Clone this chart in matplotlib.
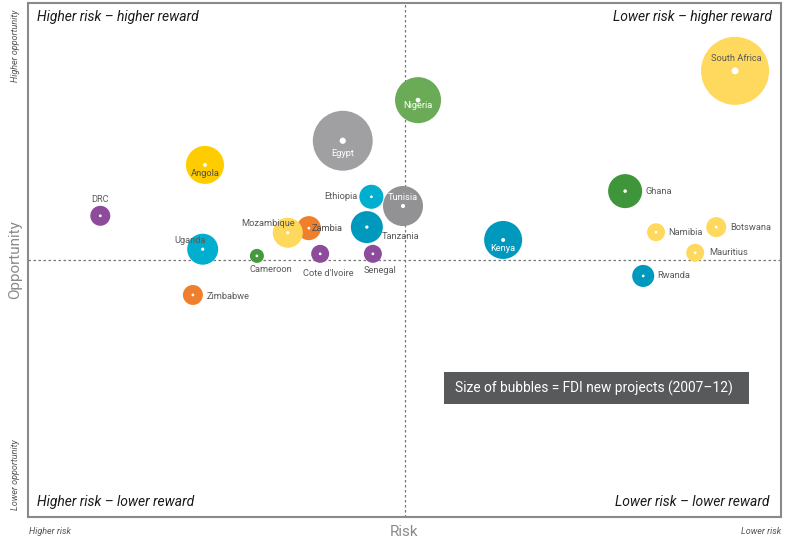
import matplotlib.pyplot as plt
from matplotlib.patches import Rectangle

# Data (risk score, opportunity score, FDI new projects)
countries = ["South Africa", "Nigeria", "Egypt", "Angola", "DRC", "Ethiopia",
             "Tunisia", "Tanzania", "Zambia", "Mozambique", "Uganda", "Cameroon",
             "Cote d'Ivoire", "Senegal", "Zimbabwe", "Kenya", "Ghana", "Namibia",
             "Botswana", "Mauritius", "Rwanda"]
risk = [93.9, 51.8, 41.8, 23.5, 9.6, 45.6, 49.8, 45.0, 37.3, 34.5, 23.2, 30.4,
        38.8, 45.8, 21.9, 63.1, 79.3, 83.4, 91.4, 88.6, 81.7]
opportunity = [86.8, 81.1, 73.2, 68.5, 58.6, 62.3, 60.5, 56.4, 56.2, 55.3, 52.1,
               50.8, 51.2, 51.2, 43.2, 53.9, 63.4, 55.4, 56.4, 51.4, 46.9]
fdi_projects = [800, 366, 620, 250, 69, 100, 277, 177, 100, 156, 166, 34,
                56, 56, 69, 250, 200, 56, 69, 56, 84]

YEL = "#FFD95E"
colors = [YEL, "#6BAA57", "#A0A0A2", "#FFCC00", "#8E4B9C", "#00AFCF",
          "#929294", "#0099BE", "#F07F2D", YEL, "#00AFCF", "#449A3C",
          "#8E4B9C", "#8E4B9C", "#F07F2D", "#0099BE", "#3F963A", YEL,
          YEL, YEL, "#0099BE"]

# label placement: (dx, dy) in points, ha, text colour
lab_dark = "#595959"
labels = {
    "South Africa": (1, 9, "center", lab_dark),
    "Nigeria": (0, -4, "center", "white"),
    "Egypt": (0, -9, "center", "white"),
    "Angola": (0, -6, "center", "#4d4d4d"),
    "DRC": (0, 12, "center", lab_dark),
    "Ethiopia": (-10, 0, "right", lab_dark),
    "Tunisia": (0, 6, "center", "white"),
    "Tanzania": (11, -7, "left", lab_dark),
    "Zambia": (2, 0, "left", "#4d4d4d"),
    "Mozambique": (-14, 7, "center", lab_dark),
    "Uganda": (-9, 6, "center", lab_dark),
    "Cameroon": (10, -10, "center", lab_dark),
    "Cote d'Ivoire": (6, -14, "center", lab_dark),
    "Senegal": (5, -12, "center", lab_dark),
    "Zimbabwe": (10, -1, "left", lab_dark),
    "Kenya": (0, -6, "center", "white"),
    "Ghana": (15, 0, "left", lab_dark),
    "Namibia": (9, 0, "left", lab_dark),
    "Botswana": (10, 0, "left", lab_dark),
    "Mauritius": (10, 0, "left", lab_dark),
    "Rwanda": (10, 0, "left", lab_dark),
}

plt.rcParams['font.family'] = ['Roboto', 'DejaVu Sans']

fig = plt.figure(figsize=(7.94, 5.40), dpi=100)
ax = fig.add_axes([28 / 794, 23 / 540, 753 / 794, 514 / 540])
ax.set_xlim(0, 100)
ax.set_ylim(0, 100)
ax.set_xticks([])
ax.set_yticks([])
for s in ax.spines.values():
    s.set_color("#8a8a8a")
    s.set_linewidth(1.5)

ax.axvline(50, color="#777777", lw=0.9, ls=(0, (2, 2)), zorder=0)
ax.axhline(50, color="#777777", lw=0.9, ls=(0, (2, 2)), zorder=0)

sizes = [p * 3.0 for p in fdi_projects]
ax.scatter(risk, opportunity, s=sizes, c=colors, edgecolors="none", zorder=2)
dot = [max(2.0, min(5.0, p ** 0.5 * 0.18)) for p in fdi_projects]
ax.scatter(risk, opportunity, s=[d ** 2 for d in dot], c="white",
           edgecolors="none", zorder=3)

for name, x, y in zip(countries, risk, opportunity):
    dx, dy, ha, col = labels[name]
    ax.annotate(name, (x, y), xytext=(dx, dy), textcoords="offset points",
                ha=ha, va="center", fontsize=6.7, color=col, zorder=4)

# quadrant captions
qkw = dict(transform=ax.transAxes, fontsize=10, style="italic", color="#1a1a1a")
ax.text(0.012, 0.972, "Higher risk \u2013 higher reward", ha="left", va="center", **qkw)
ax.text(0.988, 0.972, "Lower risk \u2013 higher reward", ha="right", va="center", **qkw)
ax.text(0.012, 0.030, "Higher risk \u2013 lower reward", ha="left", va="center", **qkw)
ax.text(0.985, 0.030, "Lower risk \u2013 lower reward", ha="right", va="center", **qkw)

# legend box
ax.add_patch(Rectangle((416 / 753, (517 - 404) / 514), 305 / 753, 32 / 514,
                       transform=ax.transAxes, facecolor="#58595B",
                       edgecolor="none", zorder=5))
ax.text((416 + 150) / 753, (517 - 388) / 514,
        "Size of bubbles = FDI new projects (2007\u201312)", transform=ax.transAxes,
        ha="center", va="center", fontsize=9.9, color="white", zorder=6)

# axis captions
fig.text(15 / 794, 1 - 260 / 540, "Opportunity", rotation=90, ha="center",
         va="center", fontsize=11, color="#8a8a8a")
fig.text(404 / 794, 1 - 532 / 540, "Risk", ha="center", va="center",
         fontsize=11, color="#8a8a8a")
fig.text(15 / 794, 1 - 46 / 540, "Higher opportunity", rotation=90, ha="center",
         va="center", fontsize=6.5, style="italic", color="#555555")
fig.text(15 / 794, 1 - 475 / 540, "Lower opportunity", rotation=90, ha="center",
         va="center", fontsize=6.5, style="italic", color="#555555")
fig.text(29 / 794, 1 - 532 / 540, "Higher risk", ha="left", va="center",
         fontsize=6.5, style="italic", color="#555555")
fig.text(781 / 794, 1 - 532 / 540, "Lower risk", ha="right", va="center",
         fontsize=6.5, style="italic", color="#555555")

fig.savefig("out.png", dpi=100, facecolor="white")
